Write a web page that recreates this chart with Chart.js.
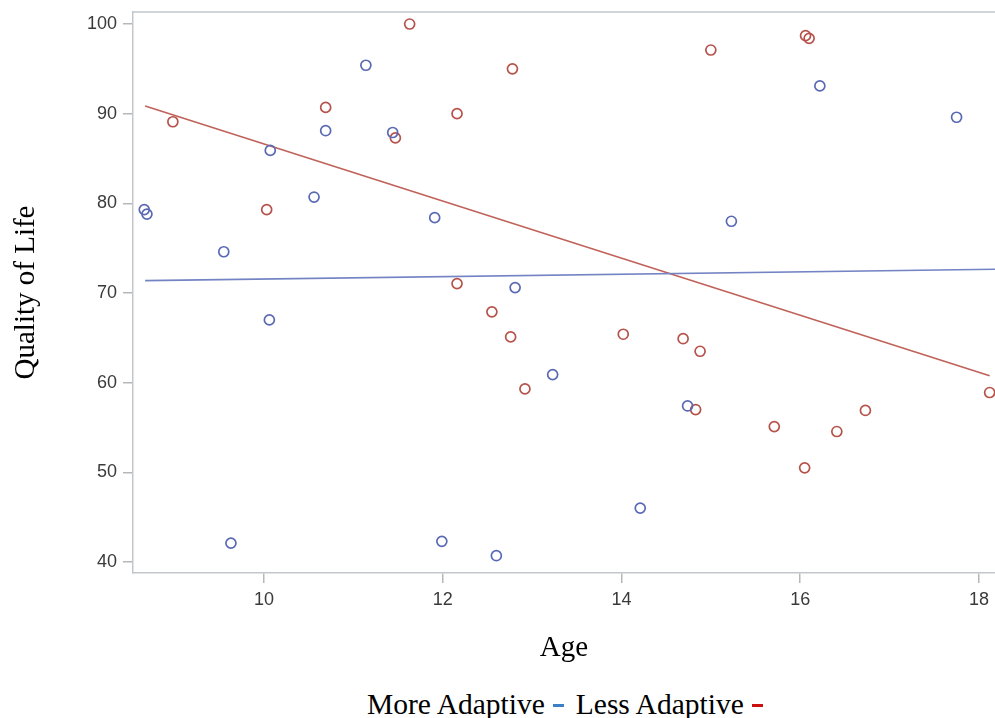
<!DOCTYPE html>
<html>
<head>
<meta charset="utf-8">
<script src="https://cdn.jsdelivr.net/npm/chart.js@4.4.1/dist/chart.umd.min.js"></script>
<style>
  html, body { margin: 0; padding: 0; background: #fff; overflow: hidden; }
  #wrap { position: relative; width: 995px; height: 718px; }
  #box { position: absolute; left: 0; top: 0; width: 995px; height: 678px; }
  #legend {
    position: absolute; left: 367px; top: 686px; height: 36px;
    line-height: 36px;
    font-family: "Liberation Serif", "DejaVu Serif", serif; font-size: 29.5px; color: #000;
    white-space: nowrap;
  }
  .dash { display: inline-block; width: 11px; height: 3px; vertical-align: middle; margin: 0 12px 0 8px; position: relative; top: -2px; }
</style>
</head>
<body>
<div id="wrap">
  <div id="box"><canvas id="chart"></canvas></div>
  <div id="legend">More Adaptive<span class="dash" style="background:#3d80c8"></span>Less Adaptive<span class="dash" style="background:#cc1010"></span></div>
</div>
<script>
// values
const moreAge = [8.66, 8.69, 9.55, 10.07, 10.56, 10.69, 11.14, 11.44, 11.91, 12.81, 10.06, 9.63, 11.99, 12.60, 13.23, 14.21, 14.74, 15.23, 16.22, 17.75];
const moreQol = [79.3, 78.8, 74.6, 85.9, 80.7, 88.1, 95.4, 87.9, 78.4, 70.6, 67.0, 42.1, 42.3, 40.7, 60.9, 46.0, 57.4, 78.0, 93.1, 89.6];

const lessAge = [8.98, 10.03, 10.69, 11.63, 11.47, 12.16, 12.78, 12.16, 12.55, 12.76, 12.92, 14.02, 14.69, 14.88, 14.83, 15.71, 16.05, 16.41, 16.73, 18.12, 15.00, 16.06, 16.10];
const lessQol = [89.1, 79.3, 90.7, 100.0, 87.3, 90.0, 95.0, 71.05, 67.9, 65.1, 59.3, 65.4, 64.9, 63.5, 57.0, 55.1, 50.5, 54.55, 56.9, 58.9, 97.1, 98.7, 98.4];

// fitted lines (end points)
const moreFitAge = [8.67, 18.18];
const moreFitQol = [71.38, 72.65];
const lessFitAge = [8.67, 18.12];
const lessFitQol = [90.86, 60.76];

const xTicks = [10, 12, 14, 16, 18];
const yTicks = [40, 50, 60, 70, 80, 90, 100];

const blue = "#5a69b4";
const red = "#b6524a";
const blueLine = "#7383c4";
const redLine = "#c0625a";
const frame = "#c3c7cb";

const pairs = (xs, ys) => xs.map((x, i) => ({ x, y: ys[i] }));

const topFrame = {
  id: "topFrame",
  afterDraw(chart) {
    const { ctx, chartArea } = chart;
    ctx.save();
    ctx.strokeStyle = frame;
    ctx.lineWidth = 1.5;
    ctx.beginPath();
    ctx.moveTo(chartArea.left, chartArea.top);
    ctx.lineTo(chartArea.right, chartArea.top);
    ctx.stroke();
    ctx.restore();
  },
};

const tickFont = { family: '"Liberation Sans", Arial, sans-serif', size: 18 };
const titleFont = { family: '"Liberation Serif", "DejaVu Serif", serif', size: 29 };

new Chart(document.getElementById("chart"), {
  type: "scatter",
  data: {
    datasets: [
      {
        label: "More Adaptive",
        data: pairs(moreAge, moreQol),
        borderColor: blue,
        backgroundColor: "transparent",
        pointRadius: 5,
        pointBorderWidth: 1.7,
      },
      {
        label: "Less Adaptive",
        data: pairs(lessAge, lessQol),
        borderColor: red,
        backgroundColor: "transparent",
        pointRadius: 5,
        pointBorderWidth: 1.7,
      },
      {
        type: "line",
        label: "More fit",
        data: pairs(moreFitAge, moreFitQol),
        borderColor: blueLine,
        borderWidth: 1.6,
        pointRadius: 0,
        fill: false,
      },
      {
        type: "line",
        label: "Less fit",
        data: pairs(lessFitAge, lessFitQol),
        borderColor: redLine,
        borderWidth: 1.6,
        pointRadius: 0,
        fill: false,
      },
    ],
  },
  options: {
    responsive: true,
    maintainAspectRatio: false,
    animation: false,
    layout: { autoPadding: false, padding: { top: 12, left: 0, right: 0, bottom: 0 } },
    plugins: {
      legend: { display: false },
      tooltip: { enabled: false },
    },
    scales: {
      x: {
        type: "linear",
        min: 8.534,
        max: 18.18,
        afterBuildTicks: (scale) => { scale.ticks = xTicks.map((value) => ({ value })); },
        afterFit: (scale) => {
          scale.height = 105;
          scale.paddingLeft = 0;
          scale.paddingRight = 0;
        },
        grid: { drawOnChartArea: false, tickLength: 10, color: "#b4b8bc", lineWidth: 1.5 },
        border: { color: frame, width: 1.5 },
        ticks: { font: tickFont, color: "#3a3a3a", padding: 6, maxRotation: 0 },
        title: { display: true, text: "Age", font: titleFont, color: "#000", padding: { top: 0, bottom: 12 } },
      },
      y: {
        type: "linear",
        min: 38.77,
        max: 101.34,
        afterBuildTicks: (scale) => { scale.ticks = yTicks.map((value) => ({ value })); },
        afterFit: (scale) => {
          scale.width = 133;
          scale.paddingTop = 0;
          scale.paddingBottom = 0;
        },
        grid: { drawOnChartArea: false, tickLength: 10, color: "#b4b8bc", lineWidth: 1.5 },
        border: { color: frame, width: 1.5 },
        ticks: { font: tickFont, color: "#3a3a3a", padding: 6 },
        title: { display: true, text: "Quality of Life", font: titleFont, color: "#000", padding: { top: 9, bottom: 0 } },
      },
    },
  },
  plugins: [topFrame],
});
</script>
</body>
</html>
